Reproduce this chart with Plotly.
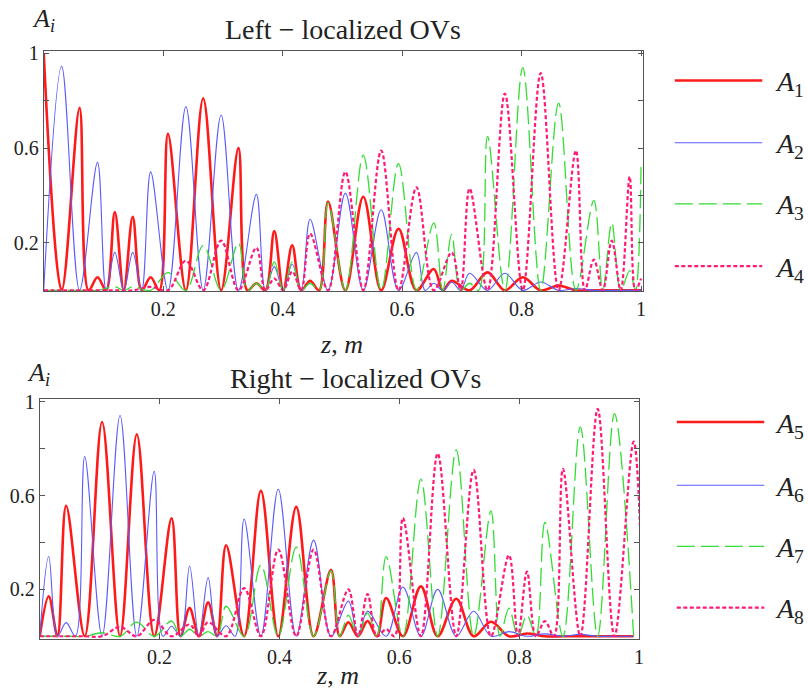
import plotly.graph_objects as go

W, H = 808, 694

# Peak positions along z (m) for the left-localized set; the last point is the edge z = 1.
# A value of 0 marks a point where the intensity touches zero.
z_left = [0.000, 0.030, 0.060, 0.090, 0.119, 0.149, 0.179, 0.208, 0.238, 0.267,
          0.297, 0.326, 0.356, 0.386, 0.416, 0.446, 0.476, 0.505, 0.535, 0.565,
          0.594, 0.624, 0.653, 0.683, 0.713, 0.743, 0.772, 0.802, 0.832, 0.862,
          0.891, 0.921, 0.951, 0.981, 1.000]
A1 = [1.00, 0.0, 0.77, 0.055, 0.33, 0.31, 0.055, 0.66, 0.0, 0.81,
      0.0, 0.60, 0.03, 0.25, 0.19, 0.04, 0.375, 0.0, 0.395, 0.0,
      0.26, 0.0, 0.09, 0.04, 0.0, 0.076, 0.0, 0.055, 0.0, 0.02,
      0.0, 0.0, 0.0, 0.0, 0.0]
A2 = [0.0, 0.945, 0.0, 0.54, 0.16, 0.16, 0.50, 0.0, 0.775, 0.0,
      0.74, 0.0, 0.405, 0.10, 0.11, 0.30, 0.0, 0.41, 0.0, 0.34,
      0.0, 0.16, 0.03, 0.035, 0.072, 0.0, 0.072, 0.0, 0.035, 0.0,
      0.008, 0.0, 0.0, 0.0, 0.0]
A3 = [0.0, 0.0, 0.0, 0.0, 0.015, 0.015, 0.0, 0.075, 0.0, 0.19,
      0.0, 0.20, 0.03, 0.12, 0.12, 0.03, 0.37, 0.0, 0.57, 0.0,
      0.535, 0.0, 0.285, 0.236, 0.03, 0.65, 0.0, 0.94, 0.0, 0.79,
      0.0, 0.38, 0.285, 0.083, 0.52]
A4 = [0.0, 0.0, 0.0, 0.0, 0.0, 0.0, 0.015, 0.0, 0.125, 0.0,
      0.21, 0.0, 0.18, 0.05, 0.08, 0.24, 0.0, 0.50, 0.0, 0.59,
      0.0, 0.435, 0.0, 0.16, 0.43, 0.0, 0.83, 0.0, 0.917, 0.0,
      0.59, 0.13, 0.21, 0.48, 0.05]

# Peak positions along z (m) for the right-localized set
z_right = [0.015, 0.044, 0.075, 0.104, 0.134, 0.162, 0.191, 0.220, 0.250, 0.281,
           0.311, 0.341, 0.369, 0.398, 0.428, 0.457, 0.486, 0.515, 0.547, 0.578,
           0.606, 0.636, 0.664, 0.695, 0.724, 0.753, 0.783, 0.813, 0.843, 0.873,
           0.902, 0.931, 0.959, 0.991]
A5 = [0.17, 0.557, 0.0, 0.914, 0.0, 0.861, 0.0, 0.503, 0.12, 0.145,
      0.388, 0.0, 0.62, 0.0, 0.552, 0.0, 0.283, 0.06, 0.065, 0.163,
      0.0, 0.213, 0.0, 0.16, 0.0, 0.062, 0.0, 0.012, 0.0, 0.0,
      0.0, 0.0, 0.0, 0.0]
A6 = [0.34, 0.058, 0.767, 0.0, 0.942, 0.0, 0.704, 0.043, 0.30, 0.25,
      0.045, 0.50, 0.0, 0.627, 0.0, 0.41, 0.0, 0.15, 0.107, 0.0,
      0.21, 0.0, 0.20, 0.0, 0.107, 0.0, 0.02, 0.0, 0.01, 0.0,
      0.008, 0.0, 0.0, 0.0]
A7 = [0.0, 0.0, 0.0, 0.015, 0.0, 0.06, 0.0, 0.065, 0.03, 0.02,
      0.128, 0.0, 0.304, 0.0, 0.38, 0.0, 0.28, 0.09, 0.10, 0.34,
      0.0, 0.67, 0.0, 0.795, 0.0, 0.535, 0.12, 0.09, 0.486, 0.0,
      0.893, 0.0, 0.95, 0.0]
A8 = [0.0, 0.0, 0.0, 0.0, 0.04, 0.0, 0.07, 0.0, 0.05, 0.06,
      0.0, 0.205, 0.0, 0.37, 0.0, 0.37, 0.0, 0.20, 0.18, 0.03,
      0.505, 0.0, 0.78, 0.0, 0.71, 0.0, 0.346, 0.276, 0.065, 0.714,
      0.0, 0.97, 0.0, 0.83]

left_series = [("A1", A1), ("A2", A2), ("A3", A3), ("A4", A4)]
right_series = [("A5", A5), ("A6", A6), ("A7", A7), ("A8", A8)]

# Axis ticks
x_tick_vals = [0.2, 0.4, 0.6, 0.8, 1.0]
x_tick_text = ["0.2", "0.4", "0.6", "0.8", "1"]
y_tick_vals = [0.2, 0.6, 1.0]
y_tick_text = ["0.2", "0.6", "1"]
y_minor_vals = [0.4, 0.8]

styles = [
    dict(color="#ff1a1a", width=2.6, dash="solid"),
    dict(color="#5a5aff", width=1.1, dash="solid"),
    dict(color="#33dd33", width=1.3, dash="18px,6px"),
    dict(color="#ff1a75", width=2.2, dash="4px,2.5px"),
]

SERIF = "Liberation Serif, Times New Roman, DejaVu Serif, serif"
INK = "#222222"


def lobes(zp, amp):
    """Path through the sampled maxima; adjacent non-zero maxima are separated by a zero."""
    xs, ys = [], []
    if zp[0] > 0:
        xs.append(0.0)
        ys.append(0.0)
    for i, (z, a) in enumerate(zip(zp, amp)):
        if i > 0 and amp[i - 1] > 0 and a > 0:
            xs.append((zp[i - 1] + z) / 2)
            ys.append(0.0)
        xs.append(z)
        ys.append(a)
    if amp[-1] > 0 and zp[-1] < 1:
        xs.append(zp[-1] + (zp[-1] - zp[-2]) / 2)
        ys.append(0.0)
    return xs, ys


fig = go.Figure()

for (name, vals), st in zip(left_series, styles):
    xs, ys = lobes(z_left, vals)
    fig.add_trace(go.Scatter(x=xs, y=ys, mode="lines", name=name, line=dict(shape="spline", **st),
                             xaxis="x", yaxis="y", showlegend=False, hoverinfo="skip"))
for (name, vals), st in zip(right_series, styles):
    xs, ys = lobes(z_right, vals)
    fig.add_trace(go.Scatter(x=xs, y=ys, mode="lines", name=name, line=dict(shape="spline", **st),
                             xaxis="x2", yaxis="y2", showlegend=False, hoverinfo="skip"))


def px_x(p):
    return p / W


def px_y(p):
    return 1 - p / H


axis_common = dict(
    showline=True, linecolor="#555555", linewidth=1, mirror="ticks",
    ticks="inside", ticklen=5, tickcolor="#555555", showgrid=False, zeroline=False,
    tickfont=dict(family=SERIF, size=20, color=INK),
)
xticks = dict(tickvals=x_tick_vals, ticktext=x_tick_text)
yticks = dict(tickvals=y_tick_vals, ticktext=y_tick_text, ticklabelstandoff=0,
              minor=dict(tickvals=y_minor_vals, ticks="inside", ticklen=5, tickcolor="#555555"))

fig.update_layout(
    width=W, height=H, margin=dict(l=0, r=0, t=0, b=0),
    paper_bgcolor="white", plot_bgcolor="white",
    xaxis=dict(domain=[px_x(44), px_x(647)], range=[0, 1.0033], anchor="y", **axis_common, **xticks),
    yaxis=dict(domain=[px_y(286), px_y(43)], range=[-0.004, 1.008], anchor="x", **axis_common, **yticks),
    xaxis2=dict(domain=[px_x(40), px_x(643)], range=[0, 1.0], anchor="y2", **axis_common, **xticks),
    yaxis2=dict(domain=[px_y(638), px_y(395)], range=[-0.0105, 1.0126], anchor="x2", **axis_common, **yticks),
)

annotations = []
shapes = []


def text(x, y, s, size, xanchor="center"):
    annotations.append(dict(x=px_x(x), y=px_y(y), xref="paper", yref="paper", text=s, showarrow=False,
                            xanchor=xanchor, yanchor="middle", font=dict(family=SERIF, size=size, color=INK)))


text(345, 21, "Left \u2212 localized OVs", 28)
text(358, 374, "Right \u2212 localized OVs", 28)
text(44, 11, "<i>A</i><sub><i>i</i></sub>", 26)
text(39, 370, "<i>A</i><sub><i>i</i></sub>", 26)
text(344, 340, "<i>z</i>, <i>m</i>", 26)
text(340, 675, "<i>z</i>, <i>m</i>", 26)

# Legend keys drawn beside each panel
legend_rows = [
    ([72.5, 135.5, 197.5, 260.5], 679, 767, ["1", "2", "3", "4"]),
    ([418.5, 482.5, 544.5, 606.5], 681, 769, ["5", "6", "7", "8"]),
]
for ys, x0, x1, subs in legend_rows:
    for yy, st, sub in zip(ys, styles, subs):
        shapes.append(dict(type="line", xref="paper", yref="paper", x0=px_x(x0), x1=px_x(x1),
                           y0=px_y(yy), y1=px_y(yy),
                           line=dict(color=st["color"], width=st["width"], dash=st["dash"])))
        text(778, yy + 3, "<i>A</i><sub>" + sub + "</sub>", 28, xanchor="left")

fig.update_layout(annotations=annotations, shapes=shapes)

fig.write_html("out.html")
